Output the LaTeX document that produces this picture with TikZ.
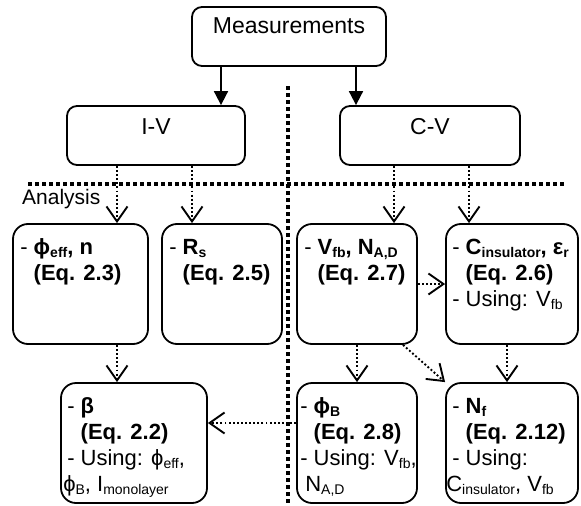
\documentclass[tikz,border=0pt]{standalone}
\usepackage{fontspec}
\setmainfont{Liberation Sans}
\usetikzlibrary{arrows.meta}
\newcommand\sbs[1]{\raisebox{-0.14em}{\fontsize{14}{14}\selectfont #1}}
\begin{document}
\begin{tikzpicture}[x=1pt,y=-1pt,
  box/.style={draw, line width=1.8pt, rounded corners=15pt, inner sep=0pt, minimum height=120pt},
  topbox/.style={draw, line width=1.8pt, rounded corners=10pt, inner sep=0pt, minimum height=59pt},
  txt/.style={anchor=north west, inner sep=0pt, align=left, font=\fontsize{22}{26}\selectfont},
  toptxt/.style={inner sep=0pt, font=\fontsize{23}{26}\selectfont},
  solidarr/.style={line width=1.8pt, -{Triangle[length=14pt,width=14pt]}},
  dotarr/.style={line width=1.9pt, dash pattern=on 1.9pt off 2.2pt, -{Straight Barb[length=15pt,width=21pt,line width=1.9pt]}},
  sepline/.style={line width=3.5pt, dash pattern=on 3.5pt off 3.5pt}]
\useasboundingbox (0,0) rectangle (581,506);

% separators
\draw[sepline] (288,86) -- (288,506);
\draw[sepline] (28,184) -- (565,184);

% top boxes
\node[topbox, minimum width=194pt] (meas) at (289,36.5) {};
\node[toptxt] (meast) at (289,26) {Measurements};
\node[topbox, minimum width=178pt] (iv) at (156,135.5) {};
\node[toptxt] (ivt) at (156,127) {I-V};
\node[topbox, minimum width=180pt] (cv) at (430,135.5) {};
\node[toptxt] (cvt) at (430,127) {C-V};

\node[anchor=west, inner sep=0pt, font=\fontsize{21}{26}\selectfont] (an) at (22,199) {Analysis};

% analysis boxes
\node[box, minimum width=135pt] (A) at (80.5,284) {};
\node[box, minimum width=120pt] (B) at (222,284) {};
\node[box, minimum width=120pt] (C) at (357,284) {};
\node[box, minimum width=132pt] (D) at (512,284) {};
\node[box, minimum width=146pt] (E) at (134,443) {};
\node[box, minimum width=120pt] (F) at (357,443) {};
\node[box, minimum width=132pt] (G) at (512,443) {};

\node[txt] (At) at ([shift={(8,13)}]A.north west)
  {\strut- \textbf{ϕ\sbs{eff}, n}\\\strut\phantom{- }\textbf{(Eq. 2.3)}};
\node[txt] (Bt) at ([shift={(8,13)}]B.north west)
  {\strut- \textbf{R\sbs{s}}\\\strut\phantom{- }\textbf{(Eq. 2.5)}};
\node[txt] (Ct) at ([shift={(8,13)}]C.north west)
  {\strut- \textbf{V\sbs{fb}, N\sbs{A,D}}\\\strut\phantom{- }\textbf{(Eq. 2.7)}};
\node[txt] (Dt) at ([shift={(7,13)}]D.north west)
  {\strut- \textbf{C\sbs{insulator}, ε\sbs{r}}\\\strut\phantom{- }\textbf{(Eq. 2.6)}\\\strut- Using: V\sbs{fb}};
\node[txt] (Et) at ([shift={(7,13)}]E.north west)
  {\strut- \textbf{β}\\\strut\phantom{- }\textbf{(Eq. 2.2)}\\\strut- Using: ϕ\sbs{eff},\\\strut\hspace{-4pt}ϕ\sbs{B}, I\sbs{monolayer}};
\node[txt] (Ft) at ([shift={(4,13)}]F.north west)
  {\strut- \textbf{ϕ\sbs{B}}\\\strut\phantom{- }\textbf{(Eq. 2.8)}\\\strut- Using: V\sbs{fb},\\\strut\hspace{5pt}N\sbs{A,D}};
\node[txt] (Gt) at ([shift={(7,13)}]G.north west)
  {\strut- \textbf{N\sbs{f}}\\\strut\phantom{- }\textbf{(Eq. 2.12)}\\\strut- Using:\\\strut\hspace{-6pt}C\sbs{insulator}, V\sbs{fb}};

% connectors
\draw[solidarr] ([xshift=-68pt]meas.south) -- ([xshift=65pt]iv.north);
\draw[solidarr] ([xshift=67pt]meas.south) -- ([xshift=-74pt]cv.north);
\draw[dotarr] ([xshift=-39pt]iv.south) -- ([xshift=36.5pt]A.north);
\draw[dotarr] ([xshift=36pt]iv.south) -- ([xshift=-30pt]B.north);
\draw[dotarr] ([xshift=-36pt]cv.south) -- ([xshift=37pt]C.north);
\draw[dotarr] ([xshift=39pt]cv.south) -- ([xshift=-43pt]D.north);
\draw[dotarr] (C.east) -- (D.west);
\draw[dotarr] ([xshift=36.5pt]A.south) -- ([xshift=-17pt]E.north);
\draw[dotarr] (C.south) -- (F.north);
\draw[dotarr] ([xshift=-5pt]D.south) -- ([xshift=-5pt]G.north);
\draw[dotarr] ([xshift=46pt]C.south) -- (G.north west);
\draw[dotarr] ([yshift=20pt]F.west) -- ([yshift=20pt]E.east);
\end{tikzpicture}
\end{document}
